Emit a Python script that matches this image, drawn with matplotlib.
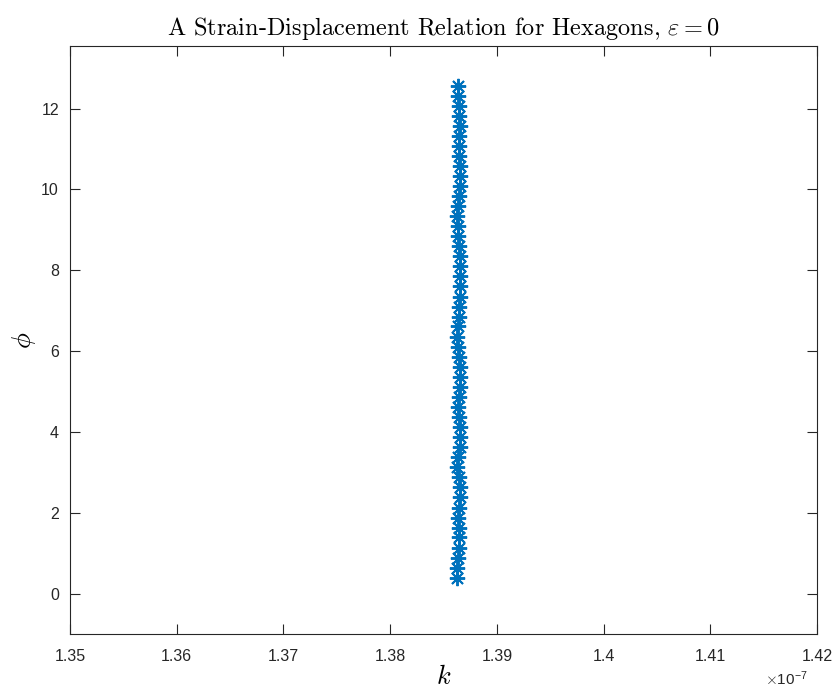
import matplotlib
matplotlib.use("Agg")
import matplotlib.pyplot as plt
from matplotlib.ticker import FixedLocator, FuncFormatter

plt.rcParams['mathtext.fontset'] = 'cm'
plt.rcParams['axes.formatter.use_mathtext'] = True

# data (k in units of 1e-7)
phi = [0.39, 0.64, 0.89, 1.14, 1.39, 1.63, 1.88, 2.13, 2.38, 2.63,
       2.88, 3.13, 3.37, 3.62, 3.87, 4.12, 4.37, 4.62, 4.87, 5.11,
       5.36, 5.61, 5.86, 6.11, 6.36, 6.61, 6.85, 7.10, 7.35, 7.60,
       7.85, 8.10, 8.35, 8.60, 8.84, 9.09, 9.34, 9.59, 9.84, 10.09,
       10.34, 10.58, 10.83, 11.08, 11.33, 11.58, 11.83, 12.07, 12.32, 12.57]
k = [1.38626, 1.38630, 1.38636, 1.38642, 1.38644, 1.38645, 1.38640, 1.38645, 1.38650, 1.38650,
     1.38645, 1.38625, 1.38632, 1.38650, 1.38652, 1.38650, 1.38644, 1.38640, 1.38648, 1.38654,
     1.38655, 1.38652, 1.38645, 1.38636, 1.38630, 1.38636, 1.38642, 1.38646, 1.38650, 1.38652,
     1.38654, 1.38655, 1.38652, 1.38648, 1.38640, 1.38632, 1.38630, 1.38638, 1.38646, 1.38652,
     1.38655, 1.38652, 1.38648, 1.38644, 1.38646, 1.38650, 1.38648, 1.38642, 1.38636, 1.38632]

xticks = [1.35, 1.36, 1.37, 1.38, 1.39, 1.40, 1.41, 1.42]
yticks = [0, 2, 4, 6, 8, 10, 12]

fig = plt.figure(figsize=(8.35, 6.92), dpi=100)
ax = fig.add_axes([70/835, 58/692, 747/835, 588/692])

ax.plot(k, phi, linestyle='none', marker=(8, 2, 0), markersize=11,
        markeredgewidth=1.4, color='#0072BD')

ax.set_xlim(1.35, 1.42)
ax.set_ylim(-1, 13.55)
ax.xaxis.set_major_locator(FixedLocator(xticks))
ax.yaxis.set_major_locator(FixedLocator(yticks))
ax.xaxis.set_major_formatter(FuncFormatter(lambda v, p: ('%.2f' % v).rstrip('0').rstrip('.')))
ax.yaxis.set_major_formatter(FuncFormatter(lambda v, p: '%d' % v))

for s in ax.spines.values():
    s.set_color('#262626')
    s.set_linewidth(0.8)
ax.tick_params(direction='in', top=True, right=True, length=7, width=0.8,
               colors='#262626', labelsize=11.5)
ax.tick_params(axis='x', pad=11)
ax.tick_params(axis='y', pad=8)
for lab in ax.get_xticklabels() + ax.get_yticklabels():
    lab.set_family('Liberation Sans')

ax.set_title(r'A Strain-Displacement Relation for Hexagons, $\varepsilon = 0$',
             fontsize=17.5, family='cmr10', pad=8)
ax.set_xlabel(r'$k$', fontsize=19, labelpad=0)
ax.set_ylabel(r'$\phi$', fontsize=19, labelpad=2)

fig.text(808/835, 4/692, r'$\times\mathregular{10}^{\mathregular{-7}}$',
         ha='right', va='bottom', fontsize=11, family='Liberation Sans', color='#262626')

fig.savefig('out.png', dpi=100)
